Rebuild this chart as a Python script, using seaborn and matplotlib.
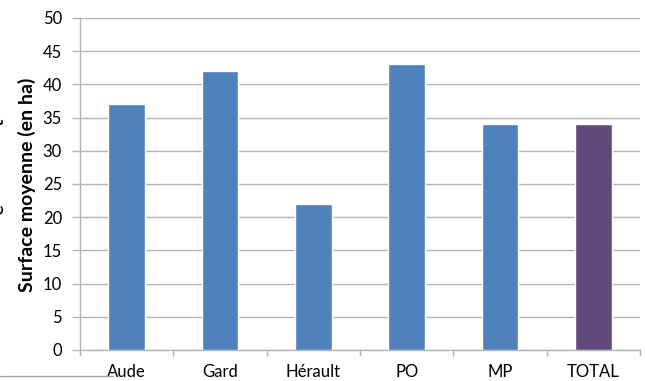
import matplotlib
matplotlib.use("Agg")
import matplotlib.pyplot as plt
import seaborn as sns
from matplotlib.lines import Line2D

# Average farm surface by department
categories = ["Aude", "Gard", "Hérault", "PO", "MP", "TOTAL"]
surface_ha = [37, 42, 22, 43, 34, 34]
bar_colors = ["#4F81BD", "#4F81BD", "#4F81BD", "#4F81BD", "#4F81BD", "#604A7B"]
y_ticks = list(range(0, 55, 5))

sns.set_theme(style="white")
plt.rcParams["font.family"] = ["Lato", "DejaVu Sans"]

fig = plt.figure(figsize=(6.45, 3.81), dpi=100)
ax = fig.add_axes([80 / 645, 31 / 381, 560 / 645, 332 / 381])

sns.barplot(x=categories, y=surface_ha, hue=categories, palette=bar_colors,
            legend=False, width=0.39, saturation=1, ax=ax, zorder=3)

grid_c = "#B4B4B4"
ax.set_ylim(0, 50)
ax.set_xlim(-0.5, len(categories) - 0.5)
ax.set_yticks(y_ticks)
ax.yaxis.grid(True, color=grid_c, linewidth=1.0, zorder=0)
ax.set_axisbelow(True)

for side in ["top", "right"]:
    ax.spines[side].set_visible(False)
for side in ["left", "bottom"]:
    ax.spines[side].set_color(grid_c)
    ax.spines[side].set_linewidth(1.0)

ax.tick_params(axis="y", which="major", left=True, length=6, width=1.0,
               color=grid_c, pad=7, labelsize=12, labelcolor="#000000")
ax.set_xticks([i - 0.5 for i in range(len(categories) + 1)], minor=True)
ax.tick_params(axis="x", which="minor", bottom=True, length=4.5, width=1.0,
               color=grid_c)
ax.tick_params(axis="x", which="major", bottom=False, length=0, pad=10,
               labelsize=12, labelcolor="#000000")

ax.set_xlabel("")
ax.set_ylabel("Surface moyenne (en ha)", fontsize=14, fontweight="bold",
              color="#000000")
ax.yaxis.set_label_coords(-0.079, 0.497)

# clipped remnants of a neighbouring caption at the left border
fig.text(-0.004, 0.68, "t", rotation=90, fontsize=15, color="#000000",
         ha="center", va="center")
fig.text(-0.004, 0.45, "e", rotation=90, fontsize=15, color="#000000",
         ha="center", va="center")

# thin separator line at the bottom-left
fig.add_artist(Line2D([0, 113 / 645], [5 / 381, 5 / 381], transform=fig.transFigure,
                      color="#A0A0A0", linewidth=1.0))

fig.savefig("out.png", dpi=100, facecolor="white")
